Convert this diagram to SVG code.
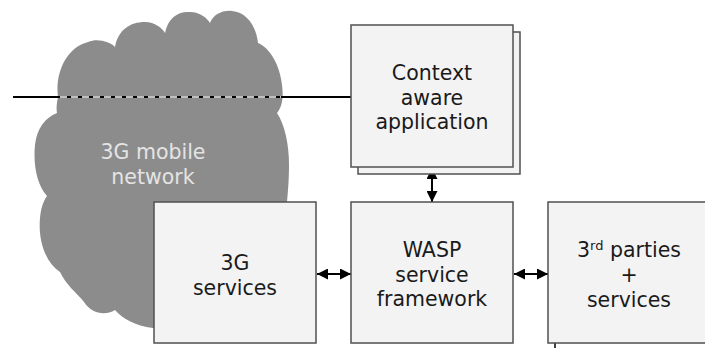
<svg xmlns="http://www.w3.org/2000/svg" width="705" height="348" viewBox="0 0 705 348">
<style>
.box{fill:#f3f3f3;stroke:#505050;stroke-width:1.5}
.lbl{font-family:"DejaVu Sans",Verdana,sans-serif;font-size:20.5px;fill:#1a1a1a;text-anchor:middle}
.cl{font-family:"DejaVu Sans",Verdana,sans-serif;font-size:20.5px;fill:#e4e4e4;text-anchor:middle}
.conn{stroke:#000;stroke-width:2;fill:none}
</style>
<defs>
<marker id="ah" viewBox="0 0 10 10" refX="10" refY="5" markerWidth="11" markerHeight="11" markerUnits="userSpaceOnUse" orient="auto-start-reverse">
<path d="M0,0 L10,5 L0,10 Z" fill="#000"/>
</marker>
</defs>
<g id="cloud">
<path fill="#8c8c8c" d="M58,97 C55,75 65,48 88,42 C98,38 110,42 115,47 C118,30 130,22 145,22 C155,22 162,28 165,33 C168,18 178,11 190,12 C200,12 207,18 210,23 C213,15 222,10 232,11 C246,12 256,25 258,43 C270,48 280,65 282,85 C284,100 281,108 277,113 C285,125 289,145 289,165 C289,185 287,200 286,215 L290,300 L200,320 L153,328 C135,326 122,318 115,310 C105,316 92,314 84,302 C76,292 66,285 60,272 C45,262 38,240 40,218 C41,208 43,202 47,196 C37,185 33,165 35,145 C37,128 45,118 57,113 C56,108 57,102 58,97 Z"/>
<text class="cl" x="153" y="159">3G mobile</text>
<text class="cl" x="153" y="184">network</text>
</g>
<g id="connectors">
<line class="conn" x1="13" y1="97" x2="351" y2="97" stroke-width="1.6"/>
<line x1="60" y1="97" x2="281" y2="97" stroke="#fff" stroke-width="1.6" stroke-dasharray="7 4"/>
<line class="conn" x1="432" y1="168" x2="432" y2="202" marker-start="url(#ah)" marker-end="url(#ah)"/>
<line class="conn" x1="317" y1="274" x2="351" y2="274" marker-start="url(#ah)" marker-end="url(#ah)"/>
<line class="conn" x1="514" y1="274" x2="548" y2="274" marker-start="url(#ah)" marker-end="url(#ah)"/>
<line x1="555" y1="343" x2="555" y2="348" stroke="#000" stroke-width="1.5"/>
</g>
<g id="context">
<rect class="box" x="358" y="32" width="162" height="142"/>
<rect class="box" x="351" y="25" width="162" height="142"/>
<text class="lbl" x="432" y="80">Context</text>
<text class="lbl" x="432" y="105">aware</text>
<text class="lbl" x="432" y="129">application</text>
</g>
<g id="services3g">
<rect class="box" x="154" y="202" width="162" height="141"/>
<text class="lbl" x="235" y="270">3G</text>
<text class="lbl" x="235" y="295">services</text>
</g>
<g id="wasp">
<rect class="box" x="351" y="202" width="162" height="141"/>
<text class="lbl" x="432" y="257">WASP</text>
<text class="lbl" x="432" y="282">service</text>
<text class="lbl" x="432" y="306">framework</text>
</g>
<g id="thirdparties">
<rect class="box" x="548" y="202" width="162" height="141"/>
<text class="lbl" x="629" y="257">3<tspan font-size="13px" dy="-7">rd</tspan><tspan dy="7"> parties</tspan></text>
<text class="lbl" x="629" y="282">+</text>
<text class="lbl" x="629" y="307">services</text>
</g>
</svg>
